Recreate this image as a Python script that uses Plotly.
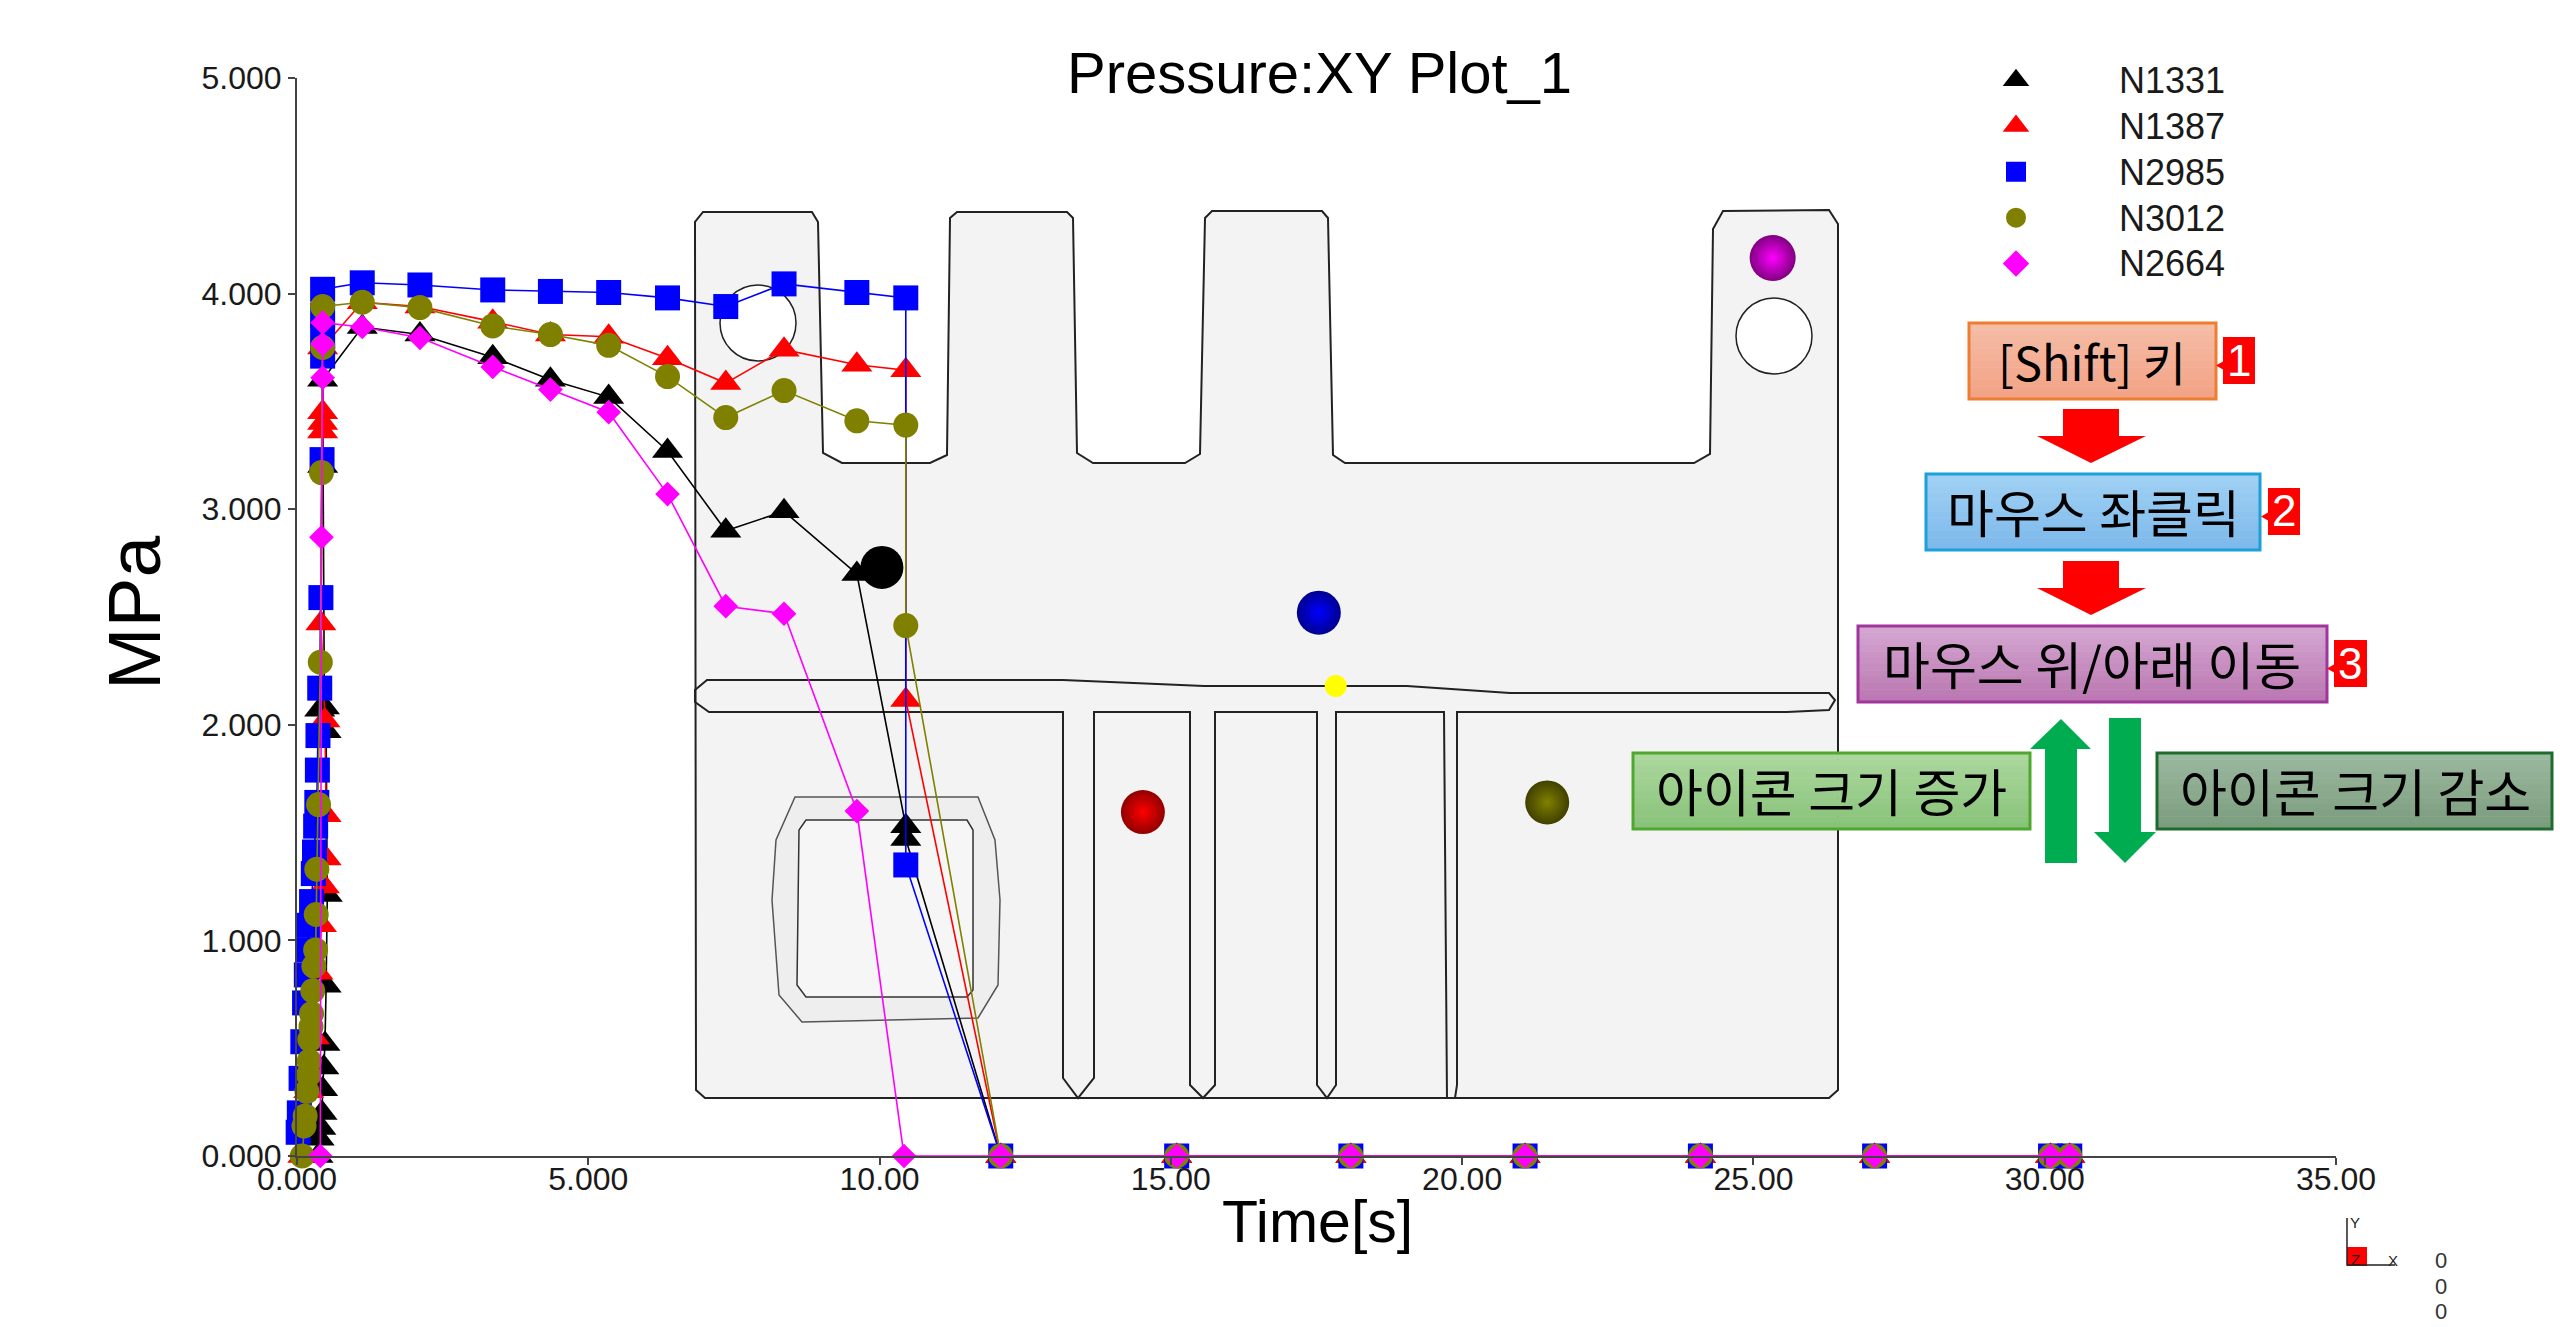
import plotly.graph_objects as go

# ---------- data ----------
zero_t = [12.08, 15.1, 18.09, 21.08, 24.09, 27.08, 30.1, 30.43]
zero_p = [0, 0, 0, 0, 0, 0, 0, 0]

main_t = [1.12, 2.11, 3.36, 4.35, 5.35, 6.36, 7.36, 8.36, 9.61, 10.45]

n1331_early_t = [0.36, 0.38, 0.41, 0.43, 0.44, 0.46, 0.48, 0.5, 0.52, 0.5, 0.39, 0.47, 0.44, 0.44]
n1331_early_p = [0.0, 0.08, 0.13, 0.2, 0.31, 0.41, 0.52, 0.79, 1.21, 1.97, 2.07, 2.08, 3.2, 3.6]
n1331_main_p = [3.845, 3.81, 3.705, 3.6, 3.52, 3.27, 2.9, 2.99, 2.7, 1.53]
n1331_tail_t = [10.45]
n1331_tail_p = [1.47]

n1387_early_t = [0.1, 0.2, 0.3, 0.36, 0.42, 0.47, 0.5, 0.5, 0.48, 0.41, 0.44, 0.44, 0.44, 0.44]
n1387_early_p = [0.0, 0.3, 0.55, 0.85, 1.07, 1.25, 1.38, 1.58, 2.02, 2.47, 3.36, 3.4, 3.45, 3.75]
n1387_main_p = [3.96, 3.94, 3.87, 3.81, 3.8, 3.7, 3.585, 3.74, 3.67, 3.645]
n1387_tail_t = [10.45]
n1387_tail_p = [2.115]

n2985_early_t = [0.02, 0.04, 0.07, 0.1, 0.13, 0.16, 0.19, 0.2, 0.25, 0.28, 0.3, 0.32, 0.34, 0.35, 0.36, 0.39, 0.41, 0.43, 0.44, 0.44, 0.44, 0.44]
n2985_early_p = [0.11, 0.2, 0.36, 0.53, 0.71, 0.84, 0.956, 1.07, 1.18, 1.31, 1.41, 1.53, 1.64, 1.79, 1.95, 2.17, 2.59, 3.23, 3.71, 3.8, 3.9, 4.02]
n2985_main_p = [4.05, 4.04, 4.017, 4.01, 4.005, 3.98, 3.94, 4.045, 4.005, 3.98]
n2985_tail_t = [10.45]
n2985_tail_p = [1.35]

n3012_early_t = [0.09, 0.12, 0.14, 0.17, 0.2, 0.21, 0.22, 0.24, 0.25, 0.27, 0.29, 0.32, 0.33, 0.34, 0.37, 0.4, 0.42, 0.44, 0.44]
n3012_early_p = [0.0, 0.139, 0.186, 0.3, 0.376, 0.44, 0.54, 0.6, 0.66, 0.766, 0.88, 0.956, 1.12, 1.33, 1.63, 2.29, 3.17, 3.75, 3.94]
n3012_main_p = [3.96, 3.935, 3.85, 3.81, 3.76, 3.615, 3.425, 3.55, 3.41, 3.39]
n3012_tail_t = [10.45]
n3012_tail_p = [2.46]

n2664_early_t = [0.4, 0.42, 0.44, 0.44, 0.44]
n2664_early_p = [0.0, 2.87, 3.61, 3.766, 3.865]
n2664_main_p = [3.845, 3.795, 3.66, 3.555, 3.45, 3.07, 2.55, 2.515, 1.6]
n2664_main_t = [1.12, 2.11, 3.36, 4.35, 5.35, 6.36, 7.36, 8.36, 9.61]
n2664_tail_t = [10.42]
n2664_tail_p = [0.0]

series_names = ["N1331", "N1387", "N2985", "N3012", "N2664"]
series_colors = ["#000000", "#ff0000", "#0000ff", "#808000", "#ff00ff"]
series_symbols = ["triangle-up", "triangle-up", "square", "circle", "diamond"]
series_sizes = [27, 27, 25, 25, 19]

probe_t = [10.04, 14.52, 17.54, 21.46, 25.33, 17.83]
probe_p = [2.73, 1.595, 2.52, 1.64, 4.165, 2.18]
probe_colors = ["#000000", "#ff0000", "#0000ff", "#808000", "#ff00ff", "#ffff00"]
probe_edges = ["#000000", "#900000", "#000090", "#404000", "#800080", "#ffff00"]
probe_sizes = [43, 44, 44, 44, 46, 22]

x_ticks = [0, 5, 10, 15, 20, 25, 30, 35]
x_labels = ["0.000", "5.000", "10.00", "15.00", "20.00", "25.00", "30.00", "35.00"]
y_ticks = [0, 1, 2, 3, 4, 5]
y_labels = ["0.000", "1.000", "2.000", "3.000", "4.000", "5.000"]

# ---------- page geometry ----------
W, H = 2560, 1327
L, R, T, B = 297, 2336, 78, 1156
def fx(px): return (px - L) / (R - L)
def fy(py): return (B - py) / (B - T)
FONT = "Liberation Sans"
KR = "Noto Sans CJK KR"

def poly(points, fill=None, line="#000000", width=2, closed=True, layer="below"):
    d = "M" + " L".join(f"{fx(x):.5f},{fy(y):.5f}" for x, y in points) + (" Z" if closed else "")
    return dict(type="path", path=d, xref="paper", yref="paper", layer=layer,
                fillcolor=fill if fill else "rgba(0,0,0,0)",
                line=dict(color=line, width=width) if width else dict(width=0))

def circle(cx, cy, r):
    return dict(type="circle", xref="paper", yref="paper", layer="below",
                x0=fx(cx - r), x1=fx(cx + r), y0=fy(cy + r), y1=fy(cy - r),
                fillcolor="#ffffff", line=dict(color="#222222", width=1.5))

def mix(c0, c1, f):
    a = [int(c0[i:i+2], 16) for i in (1, 3, 5)]
    b = [int(c1[i:i+2], 16) for i in (1, 3, 5)]
    return "#" + "".join(f"{round(p + (q - p) * f):02x}" for p, q in zip(a, b))

def box(x0, x1, y0, y1, c0, c1, border):
    out = []
    bands = 12
    for i in range(bands):
        ya = y0 + (y1 - y0) * i / bands
        yb = y0 + (y1 - y0) * (i + 1) / bands + 0.5
        out.append(dict(type="rect", xref="paper", yref="paper", layer="above",
                        x0=fx(x0), x1=fx(x1), y0=fy(yb), y1=fy(ya),
                        fillcolor=mix(c0, c1, i / (bands - 1)), line=dict(width=0)))
    out.append(dict(type="rect", xref="paper", yref="paper", layer="above",
                    x0=fx(x0), x1=fx(x1), y0=fy(y1), y1=fy(y0),
                    fillcolor="rgba(0,0,0,0)", line=dict(color=border, width=3)))
    return out

shapes = []
# part outline
outline = [(695, 222), (703, 212), (812, 212), (818, 222), (823, 453), (842, 463), (930, 463),
           (947, 455), (950, 218), (957, 212), (1067, 212), (1073, 218), (1077, 453), (1093, 463),
           (1185, 463), (1200, 454), (1205, 218), (1212, 211), (1322, 211), (1328, 218),
           (1333, 455), (1345, 463),
           (1694, 463), (1710, 454), (1713, 229), (1723, 211), (1829, 210), (1838, 224),
           (1838, 1090), (1829, 1098), (1203, 1098), (705, 1098), (696, 1090)]
shapes.append(poly(outline, fill="#f3f3f3", line="#222222", width=2))
shapes.append(circle(758, 323, 38))
shapes.append(circle(1774, 336, 38))
window_outer = [(795, 797), (978, 797), (995, 840), (1000, 900), (998, 985), (978, 1018), (802, 1022),
                (779, 995), (772, 900), (776, 840)]
window_inner = [(806, 820), (967, 820), (973, 830), (973, 990), (967, 997), (806, 997), (797, 985), (799, 830)]
shapes.append(poly(window_outer, fill="#eeeeee", line="#555555", width=1.5))
shapes.append(poly(window_inner, fill="#f6f6f6", line="#333333", width=1.5))
runner = [(709, 712), (1063, 712), (1063, 1078), (1078, 1098), (1094, 1078), (1094, 712),
          (1190, 712), (1190, 1085), (1203, 1098), (1215, 1085), (1215, 712),
          (1317, 712), (1317, 1085), (1327, 1098), (1336, 1085), (1336, 712),
          (1444, 712), (1447, 1098), (1455, 1098), (1457, 1085), (1457, 712),
          (1787, 712), (1829, 710), (1835, 700), (1829, 693), (1510, 693), (1407, 686),
          (1204, 686), (1063, 680), (707, 680), (695, 690), (695, 702)]
shapes.append(poly(runner, line="#222222", width=2))

# flow chart
red, green = "#ff0000", "#00ac50"
shapes += box(1969, 2216, 323, 399, "#f5bca6", "#f2a386", "#ed7d31")
shapes += box(1926, 2260, 474, 550, "#a0d0f4", "#7db9ea", "#1d9fd8")
shapes += box(1858, 2327, 626, 702, "#d3a6d0", "#bb78b2", "#a0359b")
shapes += box(1633, 2030, 753, 829, "#abd79d", "#89c37a", "#4ea72e")
shapes += box(2157, 2552, 753, 829, "#9ab89e", "#7c9c7e", "#1e6b2e")
for (x0, x1, y0, y1) in [(2223, 2255, 337, 384), (2268, 2300, 488, 535), (2334, 2367, 640, 687)]:
    shapes.append(poly([(x0, y0), (x1, y0), (x1, y1), (x0, y1), (x0, (y0 + y1) / 2 + 9),
                        (x0 - 7, (y0 + y1) / 2 + 5), (x0, (y0 + y1) / 2 + 1)],
                       fill=red, width=0, layer="above"))
for top in (409, 561):
    shapes.append(poly([(2063, top), (2119, top), (2119, top + 27), (2146, top + 27), (2091, top + 54),
                        (2037, top + 27), (2063, top + 27)], fill=red, width=0, layer="above"))
shapes.append(poly([(2061, 719), (2091, 749), (2077, 749), (2077, 863), (2045, 863), (2045, 749), (2030, 749)],
                   fill=green, width=0, layer="above"))
shapes.append(poly([(2109, 718), (2141, 718), (2141, 832), (2156, 832), (2125, 863), (2094, 832), (2109, 832)],
                   fill=green, width=0, layer="above"))
# orientation triad
shapes.append(dict(type="rect", xref="paper", yref="paper", layer="above",
                   x0=fx(2347), x1=fx(2367), y0=fy(1266), y1=fy(1247), fillcolor=red, line=dict(width=0)))
shapes.append(poly([(2347, 1218), (2347, 1265), (2395, 1265)], line="#222222", width=1.5, closed=False, layer="above"))

def note(text, px, py, size, color="#000000", family=KR, **kw):
    return dict(text=text, x=fx(px), y=fy(py), xref="paper", yref="paper", showarrow=False,
                xanchor="center", yanchor="middle", font=dict(size=size, color=color, family=family), **kw)

annotations = [
    note("[Shift] 키", 2092, 360, 47),
    note("마우스 좌클릭", 2093, 511, 51),
    note("마우스 위/아래 이동", 2092, 663, 51),
    note("아이콘 크기 증가", 1831, 790, 51),
    note("아이콘 크기 감소", 2355, 790, 51),
    note("1", 2239, 360, 44, "#ffffff", FONT),
    note("2", 2284, 511, 44, "#ffffff", FONT),
    note("3", 2350, 663, 44, "#ffffff", FONT),
    note("Y", 2355, 1222, 15, "#222222", FONT),
    note("Z", 2355, 1259, 15, "#222222", FONT),
    note("X", 2393, 1260, 15, "#222222", FONT),
    note("0", 2441, 1260, 22, "#333333", FONT),
    note("0", 2441, 1286, 22, "#333333", FONT),
    note("0", 2441, 1311, 22, "#333333", FONT),
    note("Pressure:XY Plot_1", 1319, 72, 58, "#000000", FONT),
    note("Time[s]", 1317, 1222, 59, "#000000", FONT),
    note("MPa", 134, 613, 75, "#000000", FONT, textangle=-90),
]

fig = go.Figure()

series_t = [
    n1331_early_t + main_t + n1331_tail_t + zero_t,
    n1387_early_t + main_t + n1387_tail_t + zero_t,
    n2985_early_t + main_t + n2985_tail_t + zero_t,
    n3012_early_t + main_t + n3012_tail_t + zero_t,
    n2664_early_t + n2664_main_t + n2664_tail_t + zero_t,
]
series_p = [
    n1331_early_p + n1331_main_p + n1331_tail_p + zero_p,
    n1387_early_p + n1387_main_p + n1387_tail_p + zero_p,
    n2985_early_p + n2985_main_p + n2985_tail_p + zero_p,
    n3012_early_p + n3012_main_p + n3012_tail_p + zero_p,
    n2664_early_p + n2664_main_p + n2664_tail_p + zero_p,
]

for i, name in enumerate(series_names):
    fig.add_trace(go.Scatter(x=series_t[i], y=series_p[i], mode="lines+markers", name=name,
                             showlegend=False, cliponaxis=False,
                             line=dict(color=series_colors[i], width=1.6),
                             marker=dict(color=series_colors[i], symbol=series_symbols[i],
                                         size=series_sizes[i], line=dict(width=0))))

# large probe spheres marked on the part
fig.add_trace(go.Scatter(x=probe_t, y=probe_p, mode="markers", showlegend=False, cliponaxis=False,
                         marker=dict(color=probe_edges, size=probe_sizes, symbol="circle", opacity=1,
                                     line=dict(width=0),
                                     gradient=dict(type="radial", color=probe_colors))))

# legend entries (markers only)
for i, name in enumerate(series_names):
    fig.add_trace(go.Scatter(x=[None], y=[None], mode="markers",
                             name=f'<span style="font-size:36px">{name}</span>',
                             marker=dict(color=series_colors[i], symbol=series_symbols[i], size=16,
                                         line=dict(color=series_colors[i], width=4))))

fig.update_layout(
    width=W, height=H, autosize=False,
    margin=dict(l=L, r=W - R, t=T, b=H - B, pad=0),
    paper_bgcolor="#ffffff", plot_bgcolor="rgba(0,0,0,0)",
    font=dict(family=FONT, color="#1a1a1a"),
    shapes=shapes, annotations=annotations,
    legend=dict(x=fx(1913), xanchor="left", y=fy(52), yanchor="top", bgcolor="rgba(0,0,0,0)",
                font=dict(size=33, family=FONT, color="#1a1a1a"), itemwidth=196,
                traceorder="normal", tracegroupgap=0, borderwidth=0),
    xaxis=dict(range=[0, 35], tickmode="array", tickvals=x_ticks, ticktext=x_labels, showgrid=False,
               zeroline=False, showline=True, linecolor="#444444", linewidth=2, ticks="outside",
               ticklen=7, tickwidth=2, tickcolor="#444444", ticklabelstandoff=-13,
               tickfont=dict(size=32, family=FONT, color="#1a1a1a")),
    yaxis=dict(range=[0, 5], tickmode="array", tickvals=y_ticks, ticktext=y_labels, showgrid=False,
               zeroline=False, showline=True, linecolor="#444444", linewidth=2, ticks="outside",
               ticklen=7, tickwidth=2, tickcolor="#444444",
               tickfont=dict(size=32, family=FONT, color="#1a1a1a")),
)

fig.write_html("out.html", post_script="document.body.style.margin='0';",
               config=dict(displayModeBar=False))
